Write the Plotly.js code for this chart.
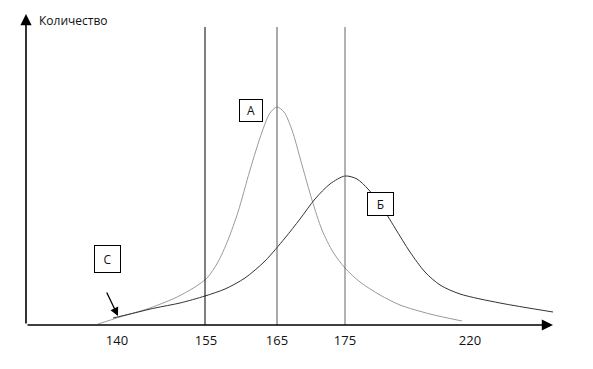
<!DOCTYPE html>
<html>
<head>
<meta charset="utf-8">
<script src="https://cdn.plot.ly/plotly-3.0.1.min.js"></script>
<style>html,body{margin:0;padding:0;background:#fff}#chart{width:593px;height:369px}</style>
</head>
<body>
<div id="chart"></div>
<script>
// Schematic horizontal positions (the original axis is not to scale)
const tickPos = [117, 206, 277, 345, 470];
const tickLabels = ['140', '155', '165', '175', '220'];
// Vertical reference lines at 155, 165, 175
const refLinePos = [205, 277, 345];
const refLineColors = ['#000000', '#555555', '#666666'];
const refLineTop = 298;

// Curve А (light grey)
const curveAx = [98, 120, 147, 175, 195, 207, 218, 228, 238, 250, 262, 270, 277, 284, 292, 302, 312, 322, 333, 345, 360, 380, 400, 430, 462];
const curveAy = [1, 8, 16, 27, 38, 47, 63, 85, 113, 155, 193, 212, 218, 213, 195, 160, 125, 95, 73, 57, 43, 30, 20, 11, 4];
// Curve Б (dark grey)
const curveBx = [113, 130, 155, 180, 205, 225, 245, 265, 285, 300, 315, 330, 345, 357, 368, 380, 395, 410, 425, 440, 460, 500, 553];
const curveBy = [7, 11, 17, 22, 29, 36, 47, 64, 87, 106, 126, 141, 149, 146, 136, 121, 97, 73, 53, 40, 31, 22, 13];

const labels = ['А', 'Б', 'С'];
const labelX = [251, 380, 107];
const labelY = [215, 121, 66];
const labelW = [22, 25, 25];
const labelH = [21, 22, 26];

const font = {family: 'Open Sans, sans-serif', size: 12, color: '#111'};
const tickFont = {family: 'Open Sans, sans-serif', size: 13, color: '#111'};

const traces = [
  {x: curveAx, y: curveAy, mode: 'lines', line: {color: '#9a9a9a', width: 1, shape: 'spline', smoothing: 0.8}, hoverinfo: 'skip'},
  {x: curveBx, y: curveBy, mode: 'lines', line: {color: '#333333', width: 1, shape: 'spline', smoothing: 0.8}, hoverinfo: 'skip'}
];

const shapes = refLinePos.map((p, i) => ({
  type: 'line', xref: 'x', yref: 'y', x0: p, x1: p, y0: 0, y1: refLineTop,
  line: {color: refLineColors[i], width: 1}
}));

const annotations = [
  // x axis with arrow
  {x: 553, y: 0, ax: 26, ay: 0, axref: 'x', ayref: 'y', xref: 'x', yref: 'y', text: '', showarrow: true, arrowhead: 2, arrowsize: 1.4, arrowwidth: 1.6, arrowcolor: '#000'},
  // y axis with arrow
  {x: 26, y: 311, ax: 26, ay: 0, axref: 'x', ayref: 'y', xref: 'x', yref: 'y', text: '', showarrow: true, arrowhead: 2, arrowsize: 1.4, arrowwidth: 1.6, arrowcolor: '#000'},
  // arrow to С
  {x: 118, y: 9, ax: 106, ay: 34, axref: 'x', ayref: 'y', xref: 'x', yref: 'y', text: '', showarrow: true, arrowhead: 2, arrowsize: 1.3, arrowwidth: 1.3, arrowcolor: '#000'},
  {x: 37, y: 305, xref: 'x', yref: 'y', text: 'Количество', showarrow: false, xanchor: 'left', yanchor: 'middle', font: font},
  {x: 506, y: -16, xref: 'x', yref: 'y', text: 'Рост, см', showarrow: false, xanchor: 'left', yanchor: 'middle', font: tickFont}
];
labels.forEach((t, i) => annotations.push({
  x: labelX[i], y: labelY[i], xref: 'x', yref: 'y', text: t, showarrow: false,
  width: labelW[i], height: labelH[i], bordercolor: '#000', borderwidth: 1, borderpad: 0,
  bgcolor: '#fff', font: font, xanchor: 'center', yanchor: 'middle'
}));

const layout = {
  width: 593, height: 369,
  margin: {l: 0, r: 0, t: 0, b: 44, pad: 0},
  paper_bgcolor: '#fff', plot_bgcolor: '#fff',
  showlegend: false,
  font: font,
  xaxis: {range: [0, 593], tickvals: tickPos, ticktext: tickLabels, showgrid: false, zeroline: false, showline: false, ticks: '', ticklabelstandoff: 6, tickfont: tickFont, fixedrange: true},
  yaxis: {range: [0, 325], visible: false, showgrid: false, zeroline: false, fixedrange: true},
  shapes: shapes,
  annotations: annotations
};

Plotly.newPlot('chart', traces, layout, {displayModeBar: false, staticPlot: true});
</script>
</body>
</html>
